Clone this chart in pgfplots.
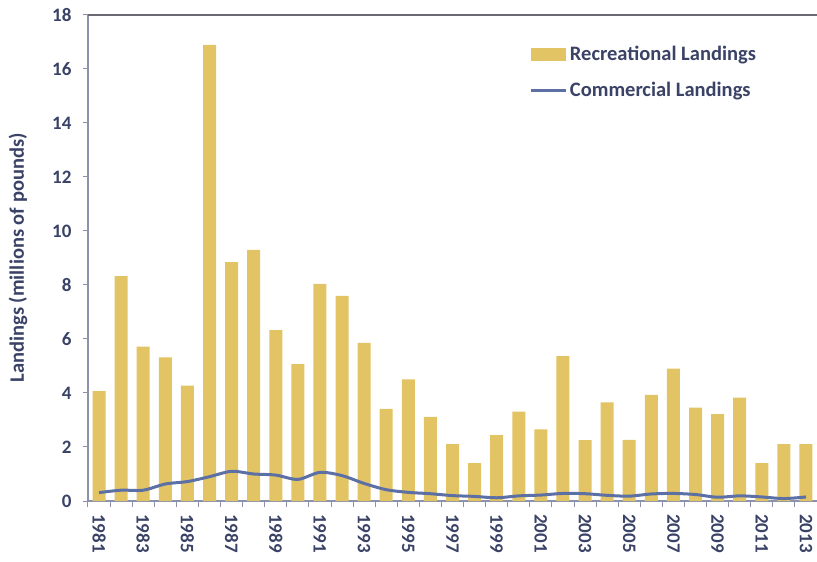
\documentclass[border=0pt]{standalone}
\usepackage{fontspec}
\setmainfont{Carlito}
\usepackage{pgfplots}
\usepackage{pgfplotstable}
\pgfplotsset{compat=1.18}
\definecolor{barc}{RGB}{226,196,100}
\definecolor{linec}{RGB}{92,112,165}
\definecolor{txt}{RGB}{58,66,102}
\definecolor{spine}{RGB}{140,146,172}
\definecolor{topc}{RGB}{105,105,115}

\pgfplotstableread{
x rec com
0 4.07 0.31
1 8.33 0.40
2 5.72 0.40
3 5.32 0.63
4 4.27 0.72
5 16.89 0.90
6 8.85 1.10
7 9.30 1.00
8 6.33 0.96
9 5.07 0.80
10 8.04 1.06
11 7.60 0.94
12 5.86 0.65
13 3.41 0.42
14 4.50 0.32
15 3.12 0.27
16 2.11 0.20
17 1.40 0.17
18 2.44 0.12
19 3.31 0.19
20 2.65 0.22
21 5.37 0.28
22 2.25 0.27
23 3.65 0.21
24 2.26 0.18
25 3.93 0.26
26 4.90 0.28
27 3.46 0.24
28 3.22 0.14
29 3.83 0.19
30 1.40 0.15
31 2.11 0.09
32 2.11 0.15
}\datatable

\begin{document}
\begin{tikzpicture}
\begin{axis}[
  scale only axis, width=729pt, height=486pt,
  xmin=-0.5, xmax=32.5, ymin=0, ymax=18,
  axis x line*=bottom, axis y line*=left,
  axis line style={spine, line width=1.2pt},
  tick align=outside,
  ytick={0,2,...,18},
  major tick length=5pt,
  tick style={spine, line width=1pt},
  xtick={0,2,...,32},
  xticklabels={1981,1983,1985,1987,1989,1991,1993,1995,1997,1999,2001,2003,2005,2007,2009,2011,2013},
  major x tick style={draw=none},
  minor xtick={-0.5,0.5,...,32.5},
  minor tick length=6pt,
  /pgf/number format/assume math mode=true,
  ticklabel style={font=\fontsize{19}{21}\selectfont\bfseries, text=txt},
  xticklabel style={font=\fontsize{19}{21}\selectfont\bfseries, rotate=-90, anchor=west, inner xsep=8pt},
  yticklabel style={xshift=-8pt},
  ylabel={Landings (millions of pounds)},
  every axis y label/.style={at={(axis description cs:0,0.5)}, anchor=center, rotate=90,
    yshift=70pt, font=\fontsize{20.5}{22}\selectfont\bfseries, text=txt},
  legend style={at={(0.606,0.94)}, anchor=north west, draw=none, fill=none,
    font=\fontsize{20.5}{22}\selectfont\bfseries, text=txt, inner sep=0pt,
    row sep=16pt, nodes={inner sep=2pt}},
  legend cell align=left,
  clip=false,
]
\addplot[ybar, bar width=13pt, fill=barc, draw=none,
  legend image code/.code={\fill[barc] (0pt,-6.5pt) rectangle (35pt,6.5pt);}]
  table[x=x, y=rec] {\datatable};
\addlegendentry{Recreational Landings}
\addplot[linec, line width=3pt, smooth, no marks,
  legend image code/.code={\draw[linec, line width=3pt] (0pt,0pt) -- (35pt,0pt);}]
  table[x=x, y=com] {\datatable};
\addlegendentry{Commercial Landings}
\draw[topc, line width=1.2pt] (rel axis cs:0,1) -- (rel axis cs:1,1);
\end{axis}
\pgfresetboundingbox
\path ([shift={(-88pt,-60pt)}]current axis.south west) rectangle ([shift={(0pt,15pt)}]current axis.north east);
\end{tikzpicture}
\end{document}
